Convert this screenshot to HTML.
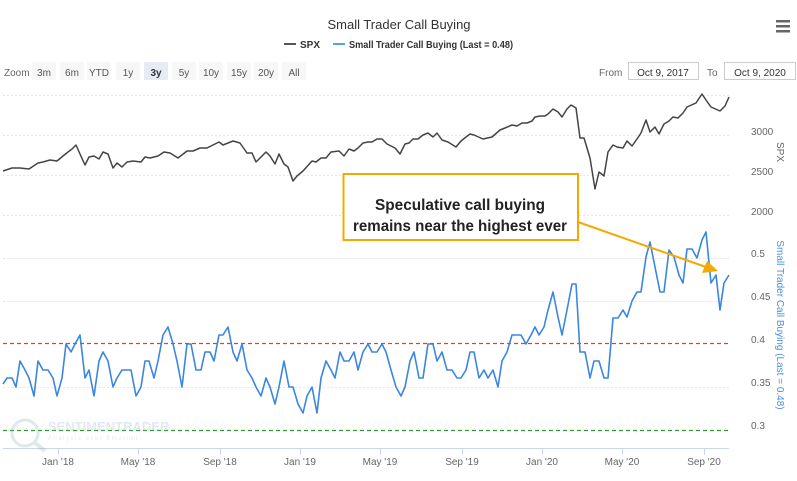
<!DOCTYPE html>
<html><head><meta charset="utf-8"><style>
body{margin:0;background:#fff;width:797px;height:476px;overflow:hidden;font-family:"Liberation Sans",sans-serif}
svg text{font-family:"Liberation Sans",sans-serif}
</style></head><body>
<svg width="797" height="476" viewBox="0 0 797 476" xmlns="http://www.w3.org/2000/svg">
<text x="399" y="29" font-size="13" fill="#333" text-anchor="middle">Small Trader Call Buying</text>
<g fill="#666"><rect x="776" y="20" width="14" height="2.5"/><rect x="776" y="25" width="14" height="2.5"/><rect x="776" y="30" width="14" height="2.5"/></g>
<line x1="284" y1="44" x2="296" y2="44" stroke="#555" stroke-width="2"/>
<text x="300" y="48" font-size="10" font-weight="bold" fill="#333">SPX</text>
<line x1="333" y1="44" x2="345" y2="44" stroke="#5aa0ea" stroke-width="2"/>
<text x="349" y="48" font-size="10" font-weight="bold" fill="#333" textLength="164" lengthAdjust="spacingAndGlyphs">Small Trader Call Buying (Last = 0.48)</text>
<text x="4" y="76" font-size="10" fill="#666">Zoom</text>
<g font-size="10" fill="#555" text-anchor="middle">
<rect x="32" y="62" width="24" height="18" fill="#f7f7f7"/><text x="44" y="76">3m</text>
<rect x="60" y="62" width="24" height="18" fill="#f7f7f7"/><text x="72" y="76">6m</text>
<rect x="87" y="62" width="24" height="18" fill="#f7f7f7"/><text x="99" y="76">YTD</text>
<rect x="116" y="62" width="24" height="18" fill="#f7f7f7"/><text x="128" y="76">1y</text>
<rect x="144" y="62" width="24" height="18" fill="#e6ebf5"/><text x="156" y="76" font-weight="bold" fill="#333">3y</text>
<rect x="172" y="62" width="24" height="18" fill="#f7f7f7"/><text x="184" y="76">5y</text>
<rect x="199" y="62" width="24" height="18" fill="#f7f7f7"/><text x="211" y="76">10y</text>
<rect x="227" y="62" width="24" height="18" fill="#f7f7f7"/><text x="239" y="76">15y</text>
<rect x="254" y="62" width="24" height="18" fill="#f7f7f7"/><text x="266" y="76">20y</text>
<rect x="282" y="62" width="24" height="18" fill="#f7f7f7"/><text x="294" y="76">All</text>
</g>
<text x="599" y="76" font-size="10" fill="#666">From</text>
<rect x="628.5" y="62.5" width="70" height="17" fill="#fff" stroke="#ccc"/>
<text x="663" y="76" font-size="10" fill="#333" text-anchor="middle">Oct 9, 2017</text>
<text x="707" y="76" font-size="10" fill="#666">To</text>
<rect x="724.5" y="62.5" width="71" height="17" fill="#fff" stroke="#ccc"/>
<text x="760" y="76" font-size="10" fill="#333" text-anchor="middle">Oct 9, 2020</text>
<g stroke="#e6e6e6" stroke-dasharray="2,2" stroke-width="1">
<line x1="3" y1="95.5" x2="729" y2="95.5"/><line x1="3" y1="135.5" x2="729" y2="135.5"/><line x1="3" y1="175.5" x2="729" y2="175.5"/><line x1="3" y1="215.5" x2="729" y2="215.5"/>
<line x1="3" y1="258.5" x2="729" y2="258.5"/><line x1="3" y1="301.5" x2="729" y2="301.5"/><line x1="3" y1="387.5" x2="729" y2="387.5"/>
</g>
<line x1="3" y1="448.5" x2="729" y2="448.5" stroke="#ccd6eb"/>
<g stroke="#ccd6eb"><line x1="58.5" y1="448" x2="58.5" y2="455"/><line x1="138.5" y1="448" x2="138.5" y2="455"/><line x1="220.5" y1="448" x2="220.5" y2="455"/><line x1="300.5" y1="448" x2="300.5" y2="455"/><line x1="380.5" y1="448" x2="380.5" y2="455"/><line x1="462.5" y1="448" x2="462.5" y2="455"/><line x1="542.5" y1="448" x2="542.5" y2="455"/><line x1="622.5" y1="448" x2="622.5" y2="455"/><line x1="704.5" y1="448" x2="704.5" y2="455"/></g>
<g font-size="10" fill="#666" text-anchor="middle">
<text x="58" y="465">Jan '18</text><text x="138" y="465">May '18</text><text x="220" y="465">Sep '18</text><text x="300" y="465">Jan '19</text><text x="380" y="465">May '19</text><text x="462" y="465">Sep '19</text><text x="542" y="465">Jan '20</text><text x="622" y="465">May '20</text><text x="704" y="465">Sep '20</text>
</g>
<g font-size="10" fill="#666">
<text x="751" y="135">3000</text><text x="751" y="175">2500</text><text x="751" y="215">2000</text>
<text x="751" y="257">0.5</text><text x="751" y="300">0.45</text><text x="751" y="343">0.4</text><text x="751" y="386">0.35</text><text x="751" y="429">0.3</text>
</g>
<text transform="translate(777,152) rotate(90)" font-size="10" fill="#666" text-anchor="middle">SPX</text>
<text transform="translate(777,325) rotate(90)" font-size="10" fill="#4a90d9" text-anchor="middle">Small Trader Call Buying (Last = 0.48)</text>
<line x1="3" y1="343.5" x2="729" y2="343.5" stroke="#e8393b" stroke-dasharray="4,3" stroke-width="1.3"/>
<line x1="3" y1="430.5" x2="729" y2="430.5" stroke="#2f9b2f" stroke-dasharray="4,3" stroke-width="1.3"/>
<g opacity="0.25"><circle cx="25" cy="433" r="13" fill="none" stroke="#8aa" stroke-width="3"/><line x1="34" y1="442" x2="45" y2="451" stroke="#8aa" stroke-width="4"/>
<text x="48" y="431" font-size="13" font-weight="bold" fill="#8ab">SENTIMENTRADER</text><text x="48" y="440" font-size="6" fill="#8ab" letter-spacing="1.5">Analysis over Emotion</text></g>
<polyline fill="none" stroke="#444" stroke-width="1.5" stroke-linejoin="round" points="3,171 12,168 20,168 29,169 38,163 43,162 50,160 57,161 63,156 68,152 72,149 76,145 80,154 85,165 89,157 94,156 99,159 103,152 108,154 113,168 117,163 122,167 127,162 133,161 141,162 145,157 150,158 158,156 164,152 170,153 178,158 187,151 193,151 200,148 207,148 213,145 219,142 223,145 233,141 240,143 247,153 252,153 256,162 266,152 270,156 275,164 279,154 284,164 288,167 293,181 297,176 303,171 312,161 316,162 321,158 326,158 331,152 339,151 344,156 349,149 354,151 358,148 363,143 368,142 372,142 377,139 382,139 387,144 395,148 400,154 405,144 409,143 413,139 418,139 423,135 428,133 433,137 437,133 442,140 448,142 456,147 461,141 466,137 470,134 474,135 483,139 492,137 500,130 505,128 512,125 517,126 522,123 527,123 532,121 535,117 540,116 545,116 548,114 553,109 558,112 562,117 567,109 571,105 576,108 580,138 584,138 590,158 595,189 599,172 604,176 608,152 613,145 617,147 623,148 627,141 632,146 637,139 641,133 646,120 650,132 655,127 659,134 664,124 669,121 673,117 678,118 683,113 687,107 696,103 702,94 706,100 711,107 720,111 725,106 729,97"/>
<polyline fill="none" stroke="#3a86e0" stroke-width="1.6" stroke-linejoin="round" points="3,384 7,378 12,378 16,387 20,361 25,370 29,378 34,396 38,361 43,370 48,370 53,378 57,396 62,378 66,344 71,352 75,344 80,335 85,378 89,370 94,396 99,361 103,352 108,361 113,387 117,378 122,370 131,370 136,396 141,387 145,361 149,361 154,378 158,361 163,335 168,327 173,344 177,361 182,387 187,344 191,344 196,370 201,370 205,352 210,352 214,361 219,335 223,335 228,327 233,352 237,361 242,344 247,370 252,378 256,387 261,396 266,378 270,387 275,404 279,387 284,361 289,387 293,387 298,404 303,413 307,396 312,387 317,413 321,378 326,361 331,370 335,378 340,352 344,361 349,361 354,352 358,370 363,352 368,344 372,352 377,352 382,344 386,352 391,370 396,387 401,396 405,387 410,361 414,352 419,378 423,378 428,344 433,344 437,361 442,352 447,370 452,370 457,378 461,378 466,370 470,352 474,352 479,378 484,370 488,378 493,370 498,387 502,361 507,352 512,335 521,335 526,344 531,335 535,327 539,335 544,327 548,310 553,292 558,317 562,335 567,310 572,284 576,284 580,352 585,352 590,378 594,361 599,361 604,378 608,378 613,318 618,318 623,310 627,317 632,301 637,292 641,292 646,257 650,242 655,267 660,292 664,292 669,250 674,257 679,275 683,283 687,249 692,249 697,258 702,240 706,232 711,283 716,275 720,310 724,283 729,275"/>
<rect x="343.5" y="174" width="234.5" height="66" fill="#fff" stroke="#f5a800" stroke-width="2"/>
<text x="460" y="210" font-size="16" font-weight="bold" fill="#222" text-anchor="middle" textLength="170" lengthAdjust="spacingAndGlyphs">Speculative call buying</text>
<text x="460" y="231" font-size="16" font-weight="bold" fill="#222" text-anchor="middle" textLength="214" lengthAdjust="spacingAndGlyphs">remains near the highest ever</text>
<line x1="578" y1="222" x2="706" y2="267" stroke="#f5a800" stroke-width="2"/>
<polygon points="718,271 702,273 707,261" fill="#f5a800"/>
</svg>
</body></html>
